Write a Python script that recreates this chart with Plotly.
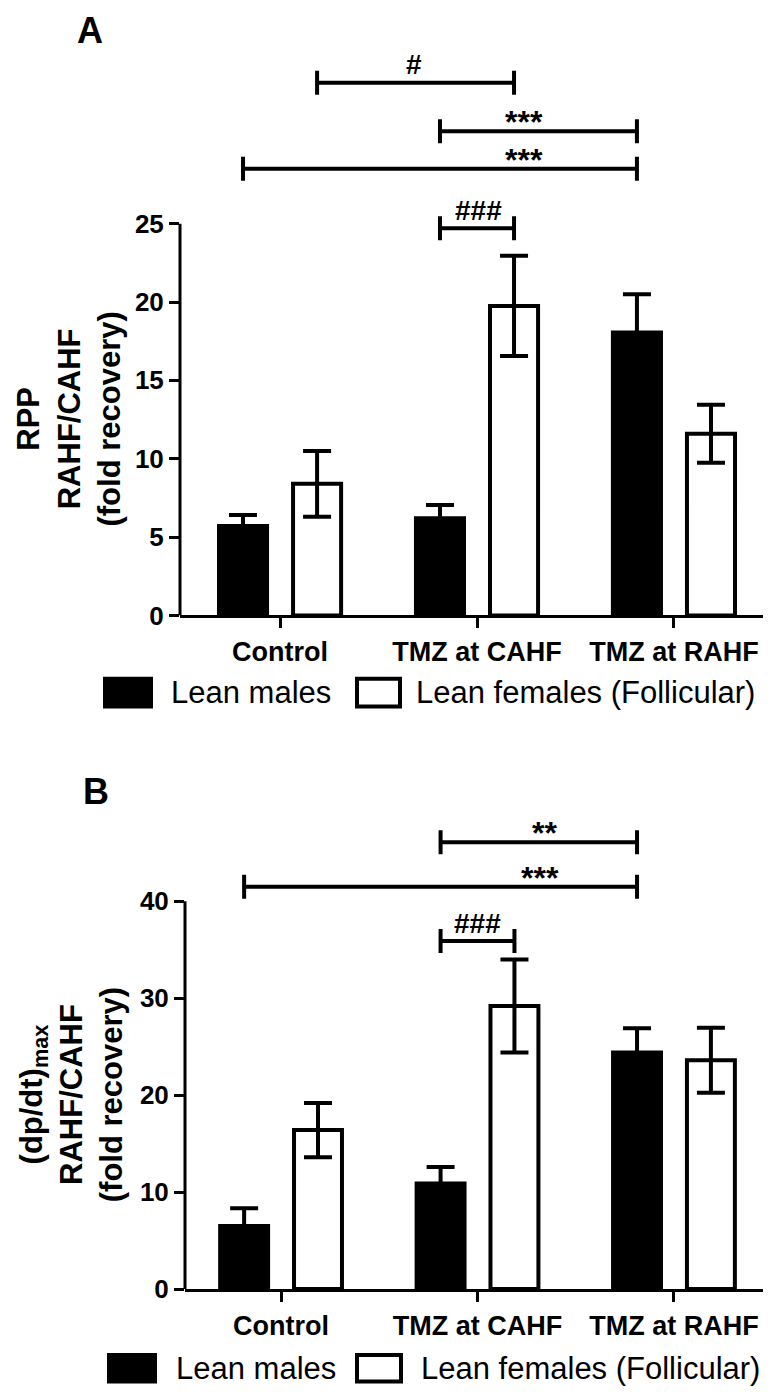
import plotly.graph_objects as go

# ---------------- data ----------------
categories = ["Control", "TMZ at CAHF", "TMZ at RAHF"]
series_names = ["Lean males", "Lean females (Follicular)"]

rpp_males = [5.7, 6.2, 18.05]
rpp_males_sem = [0.7, 0.85, 2.45]
rpp_females = [8.4, 19.75, 11.6]
rpp_females_sem = [2.1, 3.2, 1.85]

dpdt_males = [6.5, 10.9, 24.4]
dpdt_males_sem = [1.85, 1.7, 2.5]
dpdt_females = [16.4, 29.2, 23.6]
dpdt_females_sem = [2.8, 4.8, 3.35]

rpp_ticks = [0, 5, 10, 15, 20, 25]
dpdt_ticks = [0, 10, 20, 30, 40]

# significance brackets: (group_a, series_a, group_b, series_b, level, label, label_x)
rpp_brackets = [
    (0, 1, 1, 1, 34.0, "#", 0.68),
    (1, 0, 2, 0, 30.9, "***", 1.24),
    (0, 0, 2, 0, 28.5, "***", 1.24),
    (1, 0, 1, 1, 24.7, "###", 1.01),
]
dpdt_brackets = [
    (1, 0, 2, 0, 46.1, "**", 1.34),
    (0, 0, 2, 0, 41.5, "***", 1.32),
    (1, 0, 1, 1, 35.9, "###", 1.0),
]

# ---------------- layout constants ----------------
W, H = 771, 1398
FONT = "Liberation Sans, Arial, sans-serif"
SERIES_OFFSET = 0.188


def px(x):
    return x / W


def py(y):
    return 1 - y / H


fig = go.Figure()

panels = [
    dict(xa="x", ya="y", males=rpp_males, msem=rpp_males_sem, fem=rpp_females, fsem=rpp_females_sem,
         xdom=(172, 767), xrange=(-0.508, 2.513), y0px=614, ppu=15.84, ytop=36,
         ticks=rpp_ticks, brackets=rpp_brackets, label="A", label_xy=(82, 0),
         title="RPP<br>RAHF/CAHF<br>(fold recovery)", title_x=1,
         legend_y=692, leg_boxes=((97, 143), (349, 392)), leg_text_x=(161, 406), leg_h=28),
    dict(xa="x2", ya="y2", males=dpdt_males, msem=dpdt_males_sem, fem=dpdt_females, fsem=dpdt_females_sem,
         xdom=(177, 764), xrange=(-0.489, 2.499), y0px=1295, ppu=9.8, ytop=50,
         ticks=dpdt_ticks, brackets=dpdt_brackets, label="B", label_xy=(88, 769),
         title="(dp/dt)<sub>max</sub><br>RAHF/CAHF<br>(fold recovery)", title_x=4,
         legend_y=1375, leg_boxes=((101, 147), (349, 393)), leg_text_x=(166, 411), leg_h=27),
]

shapes = []
annotations = []

for i, p in enumerate(panels):
    xa, ya = p["xa"], p["ya"]
    for name, vals, sem, fill in [
        (series_names[0], p["males"], p["msem"], "black"),
        (series_names[1], p["fem"], p["fsem"], "white"),
    ]:
        fig.add_trace(go.Bar(
            x=categories, y=vals, name=name, xaxis=xa, yaxis=ya,
            marker=dict(color=fill, line=dict(color="black", width=4)),
            error_y=dict(type="data", array=sem, visible=True, color="black", thickness=4, width=14),
            showlegend=False,
        ))

    suffix = "" if i == 0 else "2"
    ytop_px = p["y0px"] - p["ytop"] * p["ppu"]
    fig.update_layout(**{
        "xaxis" + suffix: dict(
            domain=[px(p["xdom"][0]), px(p["xdom"][1])], anchor=ya, range=list(p["xrange"]),
            type="category", showline=True, linecolor="black", linewidth=3,
            ticks="outside", ticklen=10, tickwidth=3, tickcolor="black",
            tickfont=dict(family=FONT, size=27, color="black", weight="bold"),
            showgrid=False, zeroline=False, fixedrange=True,
        ),
        "yaxis" + suffix: dict(
            domain=[py(p["y0px"]), py(ytop_px)], anchor=xa, range=[0, p["ytop"]],
            showline=False, tickvals=p["ticks"], ticks="outside", ticklen=10, tickwidth=3,
            tickcolor="black", tickfont=dict(family=FONT, size=26, color="black", weight="bold"),
            showgrid=False, zeroline=False, fixedrange=True,
        ),
    })

    # y axis line only up to the last tick
    shapes.append(dict(type="line", xref="paper", yref=ya, x0=px(p["xdom"][0]), x1=px(p["xdom"][0]),
                       y0=0, y1=p["ticks"][-1], line=dict(color="black", width=3)))

    # significance brackets
    for ga, sa, gb, sb, level, text, lx in p["brackets"]:
        xa0 = ga + (-SERIES_OFFSET if sa == 0 else SERIES_OFFSET)
        xb0 = gb + (-SERIES_OFFSET if sb == 0 else SERIES_OFFSET)
        shapes.append(dict(type="line", xref=xa, yref=ya, x0=xa0, x1=xb0, y0=level, y1=level,
                           line=dict(color="black", width=4)))
        for xe in (xa0, xb0):
            shapes.append(dict(type="line", xref=xa, yref=ya, x0=xe, x1=xe, ysizemode="pixel",
                               yanchor=level, y0=-12, y1=12, line=dict(color="black", width=4)))
        star = "*" in text
        annotations.append(dict(xref=xa, yref=ya, x=lx, y=level, text=text, showarrow=False,
                                yanchor="middle", yshift=(9 if star else 18),
                                font=dict(family=FONT, size=(32 if star else 28), color="black",
                                          weight="bold")))

    # axis title
    annotations.append(dict(xref="paper", yref=ya, x=px(p["title_x"]), y=p["ticks"][-1] / 2,
                            text=p["title"], textangle=-90, showarrow=False,
                            xanchor="left", yanchor="middle",
                            font=dict(family=FONT, size=31, color="black", weight="bold")))
    # panel label
    annotations.append(dict(xref="paper", yref="paper", x=px(p["label_xy"][0]), y=py(p["label_xy"][1]),
                            text=p["label"], showarrow=False, xanchor="center", yanchor="top",
                            font=dict(family=FONT, size=36, color="black", weight="bold")))

    # legend (manual, large swatches)
    ly = p["legend_y"]
    hh = p["leg_h"] / 2
    for (bx0, bx1), fill, tx, name in zip(p["leg_boxes"], ["black", "white"], p["leg_text_x"], series_names):
        shapes.append(dict(type="rect", xref="paper", yref="paper", x0=px(bx0), x1=px(bx1),
                           y0=py(ly + hh), y1=py(ly - hh), fillcolor=fill,
                           line=dict(color="black", width=4)))
        annotations.append(dict(xref="paper", yref="paper", x=px(tx), y=py(ly), text=name,
                                showarrow=False, xanchor="left", yanchor="middle",
                                font=dict(family=FONT, size=31, color="black")))

fig.update_layout(
    width=W, height=H, margin=dict(l=0, r=0, t=0, b=0),
    paper_bgcolor="white", plot_bgcolor="white",
    barmode="group", bargap=0.248, bargroupgap=0.351,
    shapes=shapes, annotations=annotations, showlegend=False,
    font=dict(family=FONT, color="black"),
)

fig.write_html("out.html")
